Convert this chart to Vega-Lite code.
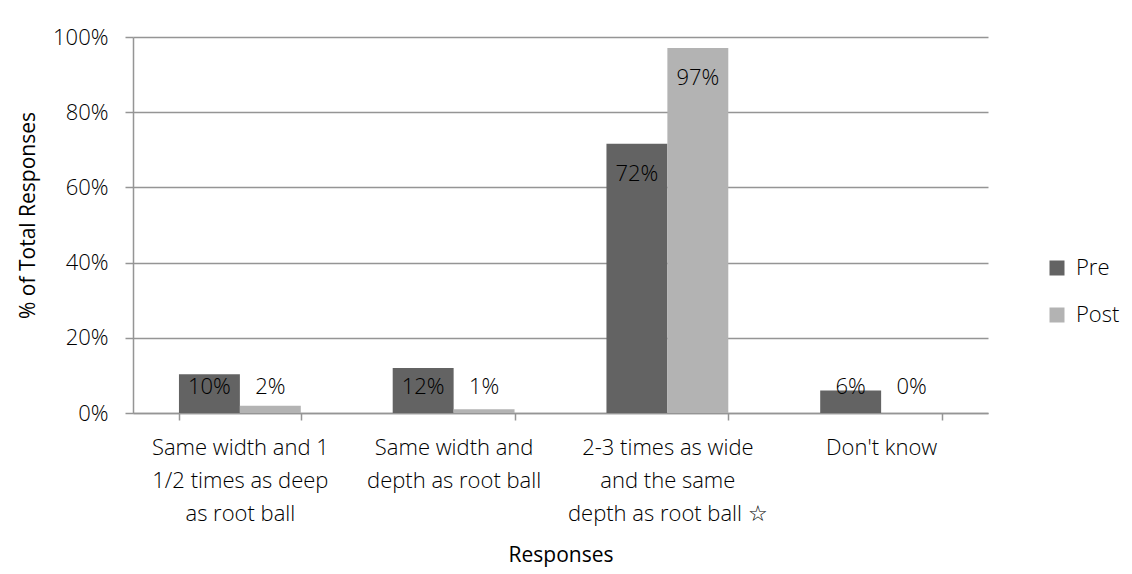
{
  "$schema": "https://vega.github.io/schema/vega-lite/v6.json",
  "width": 855,
  "height": 376,
  "autosize": {"type": "none"},
  "padding": {"left": 133, "top": 37, "right": 144, "bottom": 161},
  "background": "white",
  "config": {
    "view": {"stroke": null},
    "font": "Open Sans",
    "axis": {
      "labelFont": "Open Sans",
      "titleFont": "Open Sans",
      "labelFontSize": 22,
      "labelFontWeight": 300,
      "labelColor": "#000000",
      "titleFontSize": 21,
      "titleFontWeight": "normal",
      "titleColor": "#000000",
      "domainColor": "#959595",
      "domainWidth": 1.5,
      "tickColor": "#959595",
      "tickWidth": 1.5,
      "gridColor": "#959595",
      "gridWidth": 1.5
    },
    "legend": {"labelFont": "Open Sans", "labelFontSize": 22, "labelFontWeight": 300, "labelColor": "#000000"}
  },
  "data": {
    "values": [
      {"response": "Same width and 1|1/2 times as deep|as root ball", "group": "Pre", "value": 0.103},
      {"response": "Same width and 1|1/2 times as deep|as root ball", "group": "Post", "value": 0.019},
      {"response": "Same width and|depth as root ball", "group": "Pre", "value": 0.12},
      {"response": "Same width and|depth as root ball", "group": "Post", "value": 0.01},
      {"response": "2-3 times as wide|and the same|depth as root ball ☆", "group": "Pre", "value": 0.716},
      {"response": "2-3 times as wide|and the same|depth as root ball ☆", "group": "Post", "value": 0.971},
      {"response": "Don't know", "group": "Pre", "value": 0.06},
      {"response": "Don't know", "group": "Post", "value": 0.0}
    ]
  },
  "encoding": {
    "x": {
      "field": "response",
      "type": "nominal",
      "sort": null,
      "scale": {"paddingInner": 0.43, "paddingOuter": 0.215},
      "axis": {
        "title": "Responses",
        "labelAngle": 0,
        "labelExpr": "split(datum.label, '|')",
        "labelLineHeight": 33,
        "labelPadding": 17,
        "labelLimit": 0,
        "tickBand": "extent",
        "tickSize": 7,
        "titleY": 142,
        "titleBaseline": "middle"
      }
    },
    "xOffset": {"field": "group", "type": "nominal", "sort": ["Pre", "Post"]},
    "y": {
      "field": "value",
      "type": "quantitative",
      "scale": {"domain": [0, 1]},
      "axis": {
        "title": "% of Total Responses",
        "format": ".0%",
        "values": [0, 0.2, 0.4, 0.6, 0.8, 1],
        "grid": true,
        "tickSize": 8,
        "labelPadding": 17,
        "titleX": -105,
        "titleY": 178,
        "titleAngle": -90,
        "titleAlign": "center",
        "titleBaseline": "middle"
      }
    }
  },
  "layer": [
    {
      "mark": {"type": "bar"},
      "encoding": {
        "color": {
          "field": "group",
          "type": "nominal",
          "scale": {"domain": ["Pre", "Post"], "range": ["#636363", "#b3b3b3"]},
          "legend": {
            "title": null,
            "orient": "none",
            "legendX": 913,
            "legendY": 220,
            "symbolType": "square",
            "symbolSize": 225,
            "symbolStrokeWidth": 0,
            "labelOffset": 8,
            "rowPadding": 25
          }
        }
      }
    },
    {
      "transform": [{"filter": "datum.value >= 0.2"}],
      "mark": {"type": "text", "dy": 30, "baseline": "middle", "fontSize": 22, "fontWeight": 300, "color": "#000000"},
      "encoding": {"text": {"field": "value", "type": "quantitative", "format": ".0%"}}
    },
    {
      "transform": [{"filter": "datum.value < 0.2"}],
      "mark": {"type": "text", "baseline": "middle", "fontSize": 22, "fontWeight": 300, "color": "#000000"},
      "encoding": {
        "y": {"datum": 0.07, "type": "quantitative"},
        "text": {"field": "value", "type": "quantitative", "format": ".0%"}
      }
    }
  ]
}
